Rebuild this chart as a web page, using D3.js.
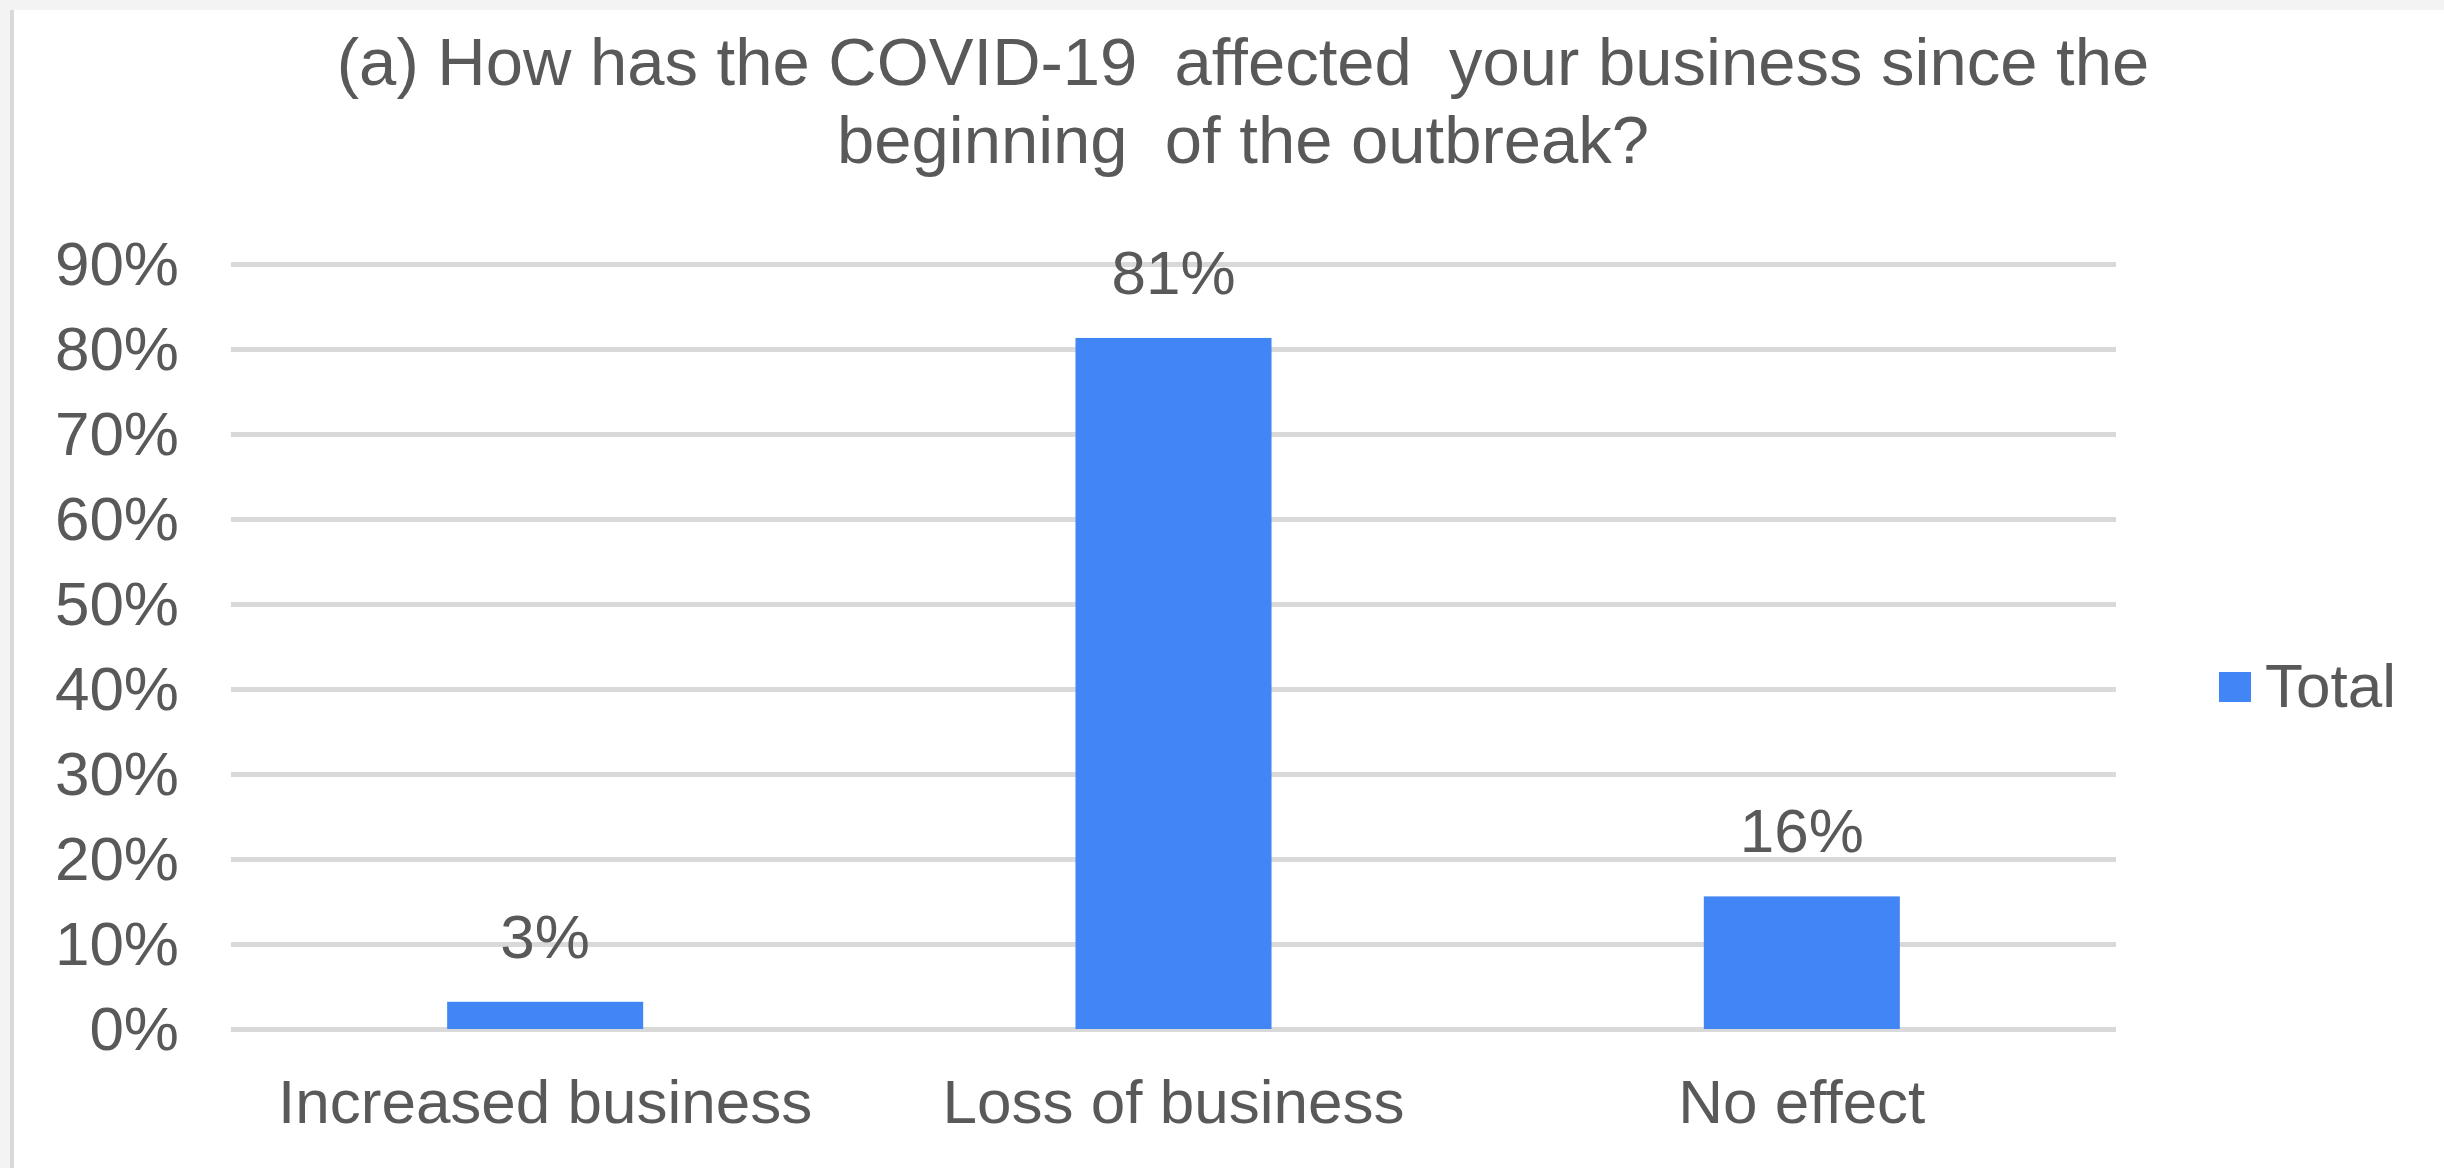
<!DOCTYPE html>
<html>
<head>
<meta charset="utf-8">
<script src="https://cdn.jsdelivr.net/npm/d3@7"></script>
<style>
  html, body { margin: 0; padding: 0; background: #ffffff; }
  svg { display: block; }
  text { font-family: "Liberation Sans", Arial, sans-serif; fill: #595959; }
</style>
</head>
<body>
<svg id="chart" width="2444" height="1168"></svg>
<script>
const categories = ["Increased business", "Loss of business", "No effect"];
const totalValues = [0.032, 0.813, 0.156];
const seriesName = "Total";
const yTicks = [0, 0.1, 0.2, 0.3, 0.4, 0.5, 0.6, 0.7, 0.8, 0.9];
const titleLines = ["(a) How has the COVID-19  affected  your business since the", "beginning  of the outbreak?"];

const svg = d3.select("#chart");
const W = 2444, H = 1168;
const fontSize = 62;

// frame
svg.append("rect").attr("x", 0).attr("y", 0).attr("width", W).attr("height", H).attr("fill", "#ffffff");
svg.append("rect").attr("x", 0).attr("y", 0).attr("width", W).attr("height", 10).attr("fill", "#f3f3f3");
svg.append("rect").attr("x", 0).attr("y", 0).attr("width", 10).attr("height", H).attr("fill", "#f3f3f3");
svg.append("rect").attr("x", 10).attr("y", 10).attr("width", 4).attr("height", H - 10).attr("fill", "#d9d9d9");

const plot = { left: 231, right: 2116, top: 264, bottom: 1029 };

const x = d3.scaleBand().domain(categories).range([plot.left, plot.right]).padding(0);
const y = d3.scaleLinear().domain([0, 0.9]).range([plot.bottom, plot.top]);
const barW = x.bandwidth() * 0.312;

// gridlines
const yAxis = d3.axisLeft(y).tickValues(yTicks).tickSize(-(plot.right - plot.left)).tickFormat(d3.format(".0%")).tickPadding(52);
const gy = svg.append("g").attr("transform", `translate(${plot.left},0)`).call(yAxis);
gy.select(".domain").remove();
gy.selectAll(".tick line").attr("stroke", "#d9d9d9").attr("stroke-width", 5);
gy.selectAll(".tick text")
  .attr("font-size", fontSize)
  .attr("font-family", "Liberation Sans, Arial, sans-serif")
  .attr("fill", "#595959")
  .attr("dy", null)
  .attr("y", 20)
  .attr("dominant-baseline", "auto");

// bars
svg.append("g").selectAll("rect").data(categories).join("rect")
  .attr("x", (d) => x(d) + x.bandwidth() / 2 - barW / 2)
  .attr("y", (d, i) => y(totalValues[i]))
  .attr("width", barW)
  .attr("height", (d, i) => y(0) - y(totalValues[i]))
  .attr("fill", "#4285f4");

// value labels
svg.append("g").selectAll("text").data(categories).join("text")
  .attr("x", (d) => x(d) + x.bandwidth() / 2)
  .attr("y", (d, i) => y(totalValues[i]) - 44)
  .attr("text-anchor", "middle")
  .attr("font-size", fontSize)
  .text((d, i) => d3.format(".0%")(totalValues[i]));

// x axis labels
const xAxis = d3.axisBottom(x).tickSize(0).tickPadding(0);
const gx = svg.append("g").attr("transform", `translate(0,${plot.bottom})`).call(xAxis);
gx.select(".domain").remove();
gx.selectAll(".tick text")
  .attr("font-size", fontSize)
  .attr("font-family", "Liberation Sans, Arial, sans-serif")
  .attr("fill", "#595959")
  .attr("dy", null)
  .attr("y", 94);

// title
const title = svg.append("text").attr("text-anchor", "middle").attr("font-size", 67);
titleLines.forEach((t, i) => {
  title.append("tspan").attr("x", 1243).attr("y", 85 + i * 78).style("white-space", "pre").text(t);
});

// legend
const lg = svg.append("g").attr("transform", "translate(2219,672)");
lg.append("rect").attr("width", 32).attr("height", 30).attr("fill", "#4285f4");
lg.append("text").attr("x", 46).attr("y", 35).attr("font-size", fontSize).text(seriesName);
</script>
</body>
</html>
